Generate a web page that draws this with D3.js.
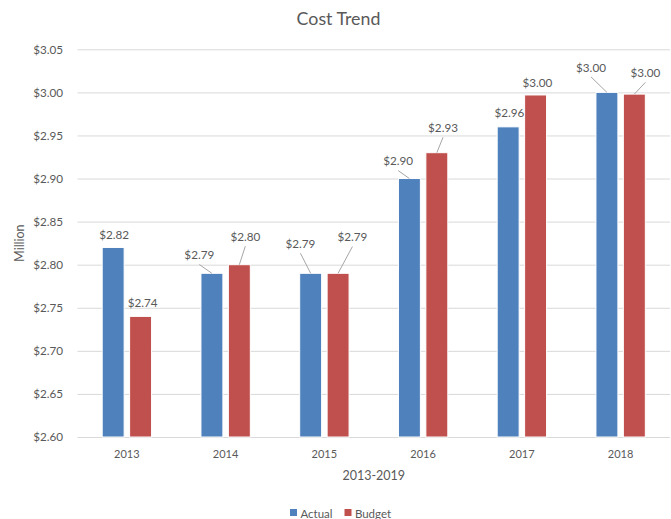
<!DOCTYPE html>
<html>
<head>
<meta charset="utf-8">
<script src="https://cdn.jsdelivr.net/npm/d3@7"></script>
<style>
  html, body { margin: 0; padding: 0; background: #fff; }
  svg { display: block; font-family: Lato, "Open Sans", sans-serif; }
</style>
</head>
<body>
<svg id="chart" width="671" height="519"></svg>
<script>
// ---- data ----
const years = ["2013", "2014", "2015", "2016", "2017", "2018"];
const seriesNames = ["Actual", "Budget"];
const actualValues = [2.82, 2.79, 2.79, 2.90, 2.96, 3.00];
const budgetValues = [2.74, 2.80, 2.79, 2.93, 2.997, 2.998];
const yTickValues = [2.60, 2.65, 2.70, 2.75, 2.80, 2.85, 2.90, 2.95, 3.00, 3.05];

// ---- layout ----
const plot = { left: 77.5, right: 670, top: 49.3, bottom: 437 };
const colors = { Actual: "#4F81BD", Budget: "#C0504D" };
const textColor = "#595959";
// label centre relative to the top-centre of its bar
const labelShift = {
  Actual: [[1, -12.7], [-12.6, -18.3], [-10.2, -29.5], [-11.2, -17.4], [1.3, -14], [-15.9, -25]],
  Budget: [[2, -13.4], [6, -28], [14.3, -36.2], [6.2, -24.9], [1.8, -12.1], [11.1, -21.3]]
};

const svg = d3.select("#chart");

const x0 = d3.scaleBand().domain(years).range([plot.left, plot.right])
  .paddingInner(0.5).paddingOuter(0.25);
const x1 = d3.scaleBand().domain(seriesNames).range([0, x0.bandwidth()])
  .paddingInner(0.2);
const y = d3.scaleLinear().domain([2.60, 3.05]).range([plot.bottom, plot.top]);

const fmt = d3.format("$.2f");

// title
svg.append("text")
  .attr("x", 338.5).attr("y", 25)
  .attr("text-anchor", "middle")
  .attr("font-size", 17.8).attr("fill", textColor)
  .text("Cost Trend");

// y axis with gridlines
const yAxis = svg.append("g")
  .attr("transform", `translate(${plot.left},0)`)
  .call(d3.axisLeft(y).tickValues(yTickValues).tickFormat(fmt)
    .tickSizeInner(-(plot.right - plot.left)).tickSizeOuter(0).tickPadding(14.5));
yAxis.select(".domain").remove();
yAxis.selectAll(".tick line").attr("stroke", "#d9d9d9").attr("stroke-width", 1);
yAxis.selectAll(".tick text").attr("fill", textColor).attr("font-size", 11.7)
  .attr("font-family", "Lato, sans-serif");

// x axis
const xAxis = svg.append("g")
  .attr("transform", `translate(0,${plot.bottom})`)
  .call(d3.axisBottom(x0).tickSize(0).tickPadding(13));
xAxis.select(".domain").remove();
xAxis.selectAll(".tick text").attr("fill", textColor).attr("font-size", 11)
  .attr("font-family", "Lato, sans-serif");

// bars
const rows = years.map((yr, i) => ({
  year: yr,
  values: [
    { series: "Actual", value: actualValues[i], idx: i },
    { series: "Budget", value: budgetValues[i], idx: i }
  ]
}));

const groups = svg.append("g").selectAll("g")
  .data(rows).join("g")
  .attr("transform", d => `translate(${x0(d.year)},0)`);

groups.selectAll("rect")
  .data(d => d.values).join("rect")
  .attr("x", d => x1(d.series))
  .attr("y", d => y(d.value))
  .attr("width", x1.bandwidth())
  .attr("height", d => y(2.60) - y(d.value))
  .attr("fill", d => colors[d.series])
  .attr("stroke", "#ffffff")
  .attr("stroke-width", 1);

// data labels with leader lines
const points = rows.flatMap(r => r.values.map(v => {
  const cx = x0(r.year) + x1(v.series) + x1.bandwidth() / 2;
  const top = y(v.value);
  const [dx, dy] = labelShift[v.series][v.idx];
  return { ...v, cx, top, lx: cx + dx, ly: top + dy, lead: Math.hypot(dx, dy + 13) > 5 };
}));

const labels = svg.append("g");
labels.selectAll("line")
  .data(points.filter(p => p.lead)).join("line")
  .attr("x1", p => p.lx).attr("y1", p => p.ly + 9.5)
  .attr("x2", p => p.cx).attr("y2", p => p.top)
  .attr("stroke", "#a6a6a6").attr("stroke-width", 1);
labels.selectAll("text")
  .data(points).join("text")
  .attr("x", p => p.lx).attr("y", p => p.ly)
  .attr("dy", "0.36em")
  .attr("text-anchor", "middle")
  .attr("font-size", 11.7).attr("fill", textColor)
  .text(p => fmt(p.value));

// axis titles
svg.append("text")
  .attr("transform", `translate(24,${(plot.top + plot.bottom) / 2}) rotate(-90)`)
  .attr("text-anchor", "middle")
  .attr("font-size", 12.5).attr("fill", textColor)
  .text("Million");

svg.append("text")
  .attr("x", (plot.left + plot.right) / 2).attr("y", 479.5)
  .attr("text-anchor", "middle")
  .attr("font-size", 12.5).attr("fill", textColor)
  .text("2013-2019");

// legend
const legend = svg.append("g").attr("transform", "translate(290,509)");
const legendItems = legend.selectAll("g")
  .data(seriesNames).join("g")
  .attr("transform", (d, i) => `translate(${i * 54.5},0)`);
legendItems.append("rect")
  .attr("width", 7).attr("height", 7)
  .attr("fill", d => colors[d]);
legendItems.append("text")
  .attr("x", 10.4).attr("y", 8.5)
  .attr("font-size", 11.5).attr("fill", textColor)
  .text(d => d);
</script>
</body>
</html>
